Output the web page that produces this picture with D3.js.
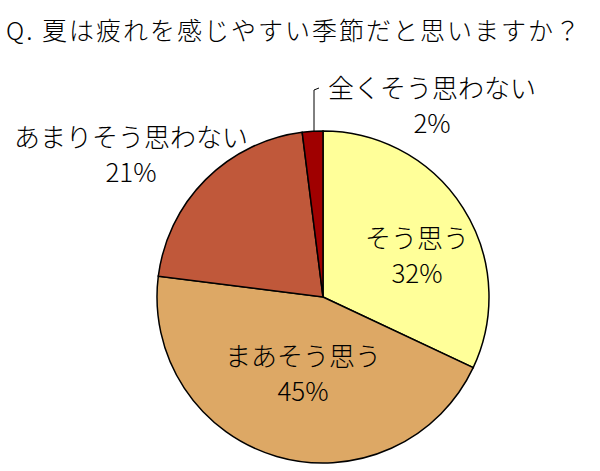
<!DOCTYPE html><html><head><meta charset="utf-8">
<script src="https://cdn.jsdelivr.net/npm/d3@7"></script>
<style>body{margin:0;background:#fff}text{font-family:"Noto Sans CJK JP",sans-serif;font-weight:300}</style></head><body>
<svg id="c" width="600" height="471"></svg>
<script>
const title="Q. 夏は疲れを感じやすい季節だと思いますか？";
const categories=["そう思う","まあそう思う","あまりそう思わない","全くそう思わない"];
const values=[32,45,21,2];
const colors=["#FFFF99","#DDA865","#C0583A","#A00000"];
const svg=d3.select("#c");
svg.append("text").attr("x",6).attr("y",40).attr("font-size",25).attr("textLength",574).text(title);
const cx=323,cy=297,r=166;
const pie=d3.pie().sort(null)(values);
const arc=d3.arc().innerRadius(0).outerRadius(r);
const g=svg.append("g").attr("transform",`translate(${cx},${cy})`);
g.selectAll("path").data(pie).join("path").attr("d",arc).attr("fill",(d,i)=>colors[i]).attr("stroke","#000").attr("stroke-width",1.5);
const labelPos=[[417,248],[303,366],[131,147],[432,98]];
labelPos.forEach((p,i)=>{
  const t=svg.append("text").attr("text-anchor","middle").attr("font-size",26).attr("fill","#000");
  t.append("tspan").attr("x",p[0]).attr("y",p[1]).text(categories[i]);
  t.append("tspan").attr("x",p[0]).attr("y",p[1]+35).text(values[i]+"%");
});
svg.append("polyline").attr("points","314,132 314,90 319,88").attr("fill","none").attr("stroke","#000");
</script></body></html>
